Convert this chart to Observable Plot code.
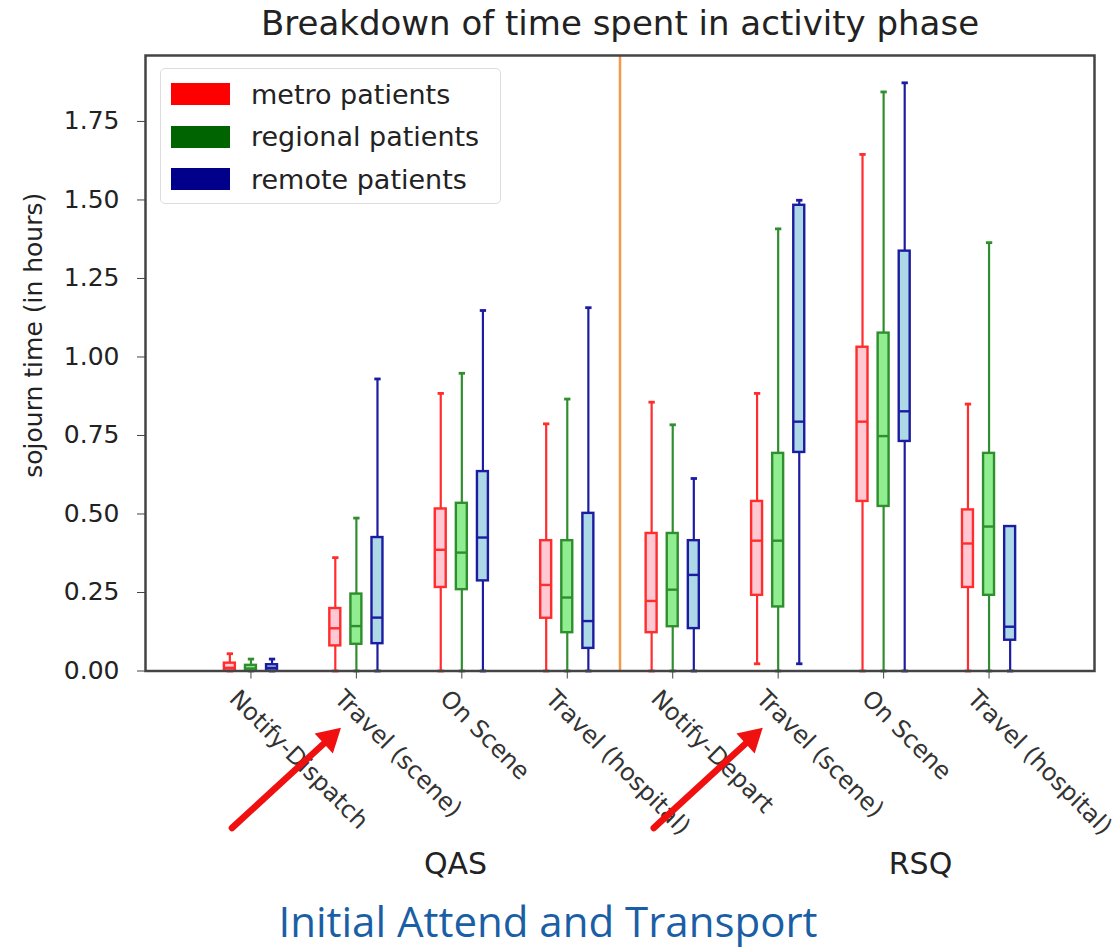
<!DOCTYPE html>
<html>
<head>
<meta charset="utf-8">
<script src="https://cdn.jsdelivr.net/npm/d3@7"></script>
<script src="https://cdn.jsdelivr.net/npm/@observablehq/plot@0.6"></script>
<style>
  html, body { margin: 0; padding: 0; background: #fff; }
  #wrap { position: relative; width: 1119px; height: 948px; overflow: hidden; }
  #legend { position: absolute; left: 160px; top: 68px; width: 339px; height: 134px;
    border: 1.5px solid #dcdcdc; border-radius: 5px; background: rgba(255,255,255,0.85);
    font-family: "DejaVu Sans", sans-serif; font-size: 27px; color: #222; }
  .item { position: absolute; left: 10px; height: 30px; display: flex; align-items: center; }
  .sw { width: 59px; height: 22px; margin-right: 21px; }
  #caption { position: absolute; left: 0; width: 1096px; top: 896px; text-align: center;
    font-family: "Open Sans", Roboto, sans-serif; font-size: 42px; color: #1a5fa5; line-height: 1.2; }
</style>
</head>
<body>
<div id="wrap">
  <div id="chart"></div>
  <div id="legend"></div>
  <div id="caption"></div>
</div>
<script>
// ---------- data ----------
const categories = ["Notify-Dispatch", "Travel (scene)", "On Scene", "Travel (hospital)",
                    "Notify-Depart", "Travel (scene)", "On Scene", "Travel (hospital)"];
const services = ["QAS", "RSQ"];
const seriesNames = ["metro patients", "regional patients", "remote patients"];
const yTicks = [0, 0.25, 0.5, 0.75, 1.0, 1.25, 1.5, 1.75];
const titleText = "Breakdown of time spent in activity phase";
const yLabelText = "sojourn time (in hours)";
const captionText = "Initial Attend and Transport";
const arrowTargets = [1, 5]; // category indices pointed to by the red arrows

// metro patients
const metroLow  = [0, 0, 0, 0, 0, 0.023, 0, 0];
const metroQ1   = [0, 0.080, 0.266, 0.168, 0.122, 0.241, 0.540, 0.266];
const metroMed  = [0.010, 0.136, 0.386, 0.274, 0.223, 0.415, 0.794, 0.406];
const metroQ3   = [0.025, 0.199, 0.516, 0.415, 0.438, 0.540, 1.031, 0.513];
const metroHigh = [0.055, 0.361, 0.884, 0.787, 0.856, 0.884, 1.645, 0.850];
// regional patients
const regionalLow  = [0, 0, 0, 0, 0, 0, 0, 0];
const regionalQ1   = [0, 0.085, 0.259, 0.122, 0.141, 0.204, 0.524, 0.241];
const regionalMed  = [0.008, 0.143, 0.377, 0.234, 0.259, 0.415, 0.748, 0.460];
const regionalQ3   = [0.018, 0.245, 0.534, 0.415, 0.438, 0.693, 1.076, 0.693];
const regionalHigh = [0.038, 0.487, 0.948, 0.866, 0.784, 1.408, 1.844, 1.364];
// remote patients
const remoteLow  = [0, 0, 0, 0, 0, 0.023, 0, 0];
const remoteQ1   = [0, 0.087, 0.287, 0.072, 0.135, 0.696, 0.731, 0.098];
const remoteMed  = [0.010, 0.170, 0.425, 0.159, 0.306, 0.794, 0.827, 0.141];
const remoteQ3   = [0.020, 0.425, 0.635, 0.502, 0.415, 1.483, 1.337, 0.460];
const remoteHigh = [0.038, 0.930, 1.148, 1.157, 0.613, 1.499, 1.873, 0.460];

// ---------- styles ----------
const edgeColors = ["#ff2d2d", "#2f8f2f", "#1c1ca2"];
const fillColors = ["#ffc8d2", "#90ee90", "#add8e6"];
const legendColors = ["#ff0000", "#006400", "#00008b"];
const offsets = [-0.2, 0, 0.2];
const boxHalf = 0.052, capHalf = 0.03;

const stats = [
  [metroLow, metroQ1, metroMed, metroQ3, metroHigh],
  [regionalLow, regionalQ1, regionalMed, regionalQ3, regionalHigh],
  [remoteLow, remoteQ1, remoteMed, remoteQ3, remoteHigh]
];
const rows = [];
categories.forEach((c, i) => {
  stats.forEach((st, s) => {
    rows.push({pos: i + offsets[s], s, low: st[0][i], q1: st[1][i], med: st[2][i], q3: st[3][i], high: st[4][i]});
  });
});
const positions = categories.map((c, i) => i);
const separator = [(categories.length / services.length) - 0.5];

const edge = d => edgeColors[d.s];

const chart = Plot.plot({
  width: 1119,
  height: 948,
  marginLeft: 145,
  marginRight: 25,
  marginTop: 55,
  marginBottom: 277.5,
  style: {fontFamily: "DejaVu Sans", background: "transparent", color: "#222", overflow: "visible"},
  x: {domain: [-1, 8], label: null},
  y: {domain: [0, 1.96], label: null},
  marks: [
    Plot.ruleX(separator, {x: d => d, stroke: "#f39a48", strokeWidth: 2.5}),
    // whiskers
    Plot.ruleX(rows, {x: "pos", y1: "low", y2: "q1", stroke: edge, strokeWidth: 2.2}),
    Plot.ruleX(rows, {x: "pos", y1: "q3", y2: "high", stroke: edge, strokeWidth: 2.2}),
    // caps
    Plot.link(rows, {x1: d => d.pos - capHalf, x2: d => d.pos + capHalf, y1: "high", y2: "high", stroke: edge, strokeWidth: 2.8}),
    Plot.link(rows, {x1: d => d.pos - capHalf, x2: d => d.pos + capHalf, y1: "low", y2: "low", stroke: edge, strokeWidth: 2.8}),
    // boxes
    Plot.rect(rows, {x1: d => d.pos - boxHalf, x2: d => d.pos + boxHalf, y1: "q1", y2: "q3",
      fill: d => fillColors[d.s], stroke: edge, strokeWidth: 2.4}),
    // medians
    Plot.link(rows, {x1: d => d.pos - boxHalf, x2: d => d.pos + boxHalf, y1: "med", y2: "med", stroke: edge, strokeWidth: 2.4}),
    Plot.frame({stroke: "#444", strokeWidth: 2.5}),
    Plot.axisY({ticks: yTicks, tickFormat: d3.format(".2f"), tickSize: 8, tickPadding: 18, fontSize: 25, label: null, stroke: "#444"}),
    Plot.axisX({ticks: positions, tickFormat: () => "", tickSize: 8, label: null, stroke: "#444"}),
    Plot.text(positions, {x: d => d, text: d => categories[d], frameAnchor: "bottom", rotate: 45,
      textAnchor: "start", lineAnchor: "top", dy: 17, dx: -11, fontSize: 24, fill: "#333"}),
    Plot.text(services, {x: d => d === "QAS" ? 1.94 : 6.35, text: d => d, frameAnchor: "bottom", dy: 203,
      fontSize: 30, fill: "#222"}),
    Plot.text([yLabelText], {text: d => d, frameAnchor: "left", rotate: -90, textAnchor: "middle",
      dx: -112, dy: -28, fontSize: 25, fill: "#222"}),
    Plot.text([titleText], {text: d => d, frameAnchor: "top", lineAnchor: "middle", dy: -31, fontSize: 34, fill: "#222"}),
    // red annotation arrows
    Plot.link(arrowTargets, {x1: d => d - 1.18, y1: () => -0.50, x2: d => d - 0.26, y2: () => -0.216,
      stroke: "#f01010", strokeWidth: 6.5, strokeLinecap: "round"}),
    Plot.dot(arrowTargets, {x: d => d - 0.255, y: () => -0.214, symbol: "triangle", r: 10, rotate: 47.5,
      fill: "#f01010", stroke: "none"})
  ]
});
document.getElementById("chart").appendChild(chart);

// legend
const legend = document.getElementById("legend");
seriesNames.forEach((name, i) => {
  const item = document.createElement("div");
  item.className = "item";
  item.style.top = (10 + i * 42.5) + "px";
  const sw = document.createElement("div");
  sw.className = "sw";
  sw.style.background = legendColors[i];
  const label = document.createElement("span");
  label.textContent = name;
  item.appendChild(sw);
  item.appendChild(label);
  legend.appendChild(item);
});
document.getElementById("caption").textContent = captionText;
</script>
</body>
</html>
